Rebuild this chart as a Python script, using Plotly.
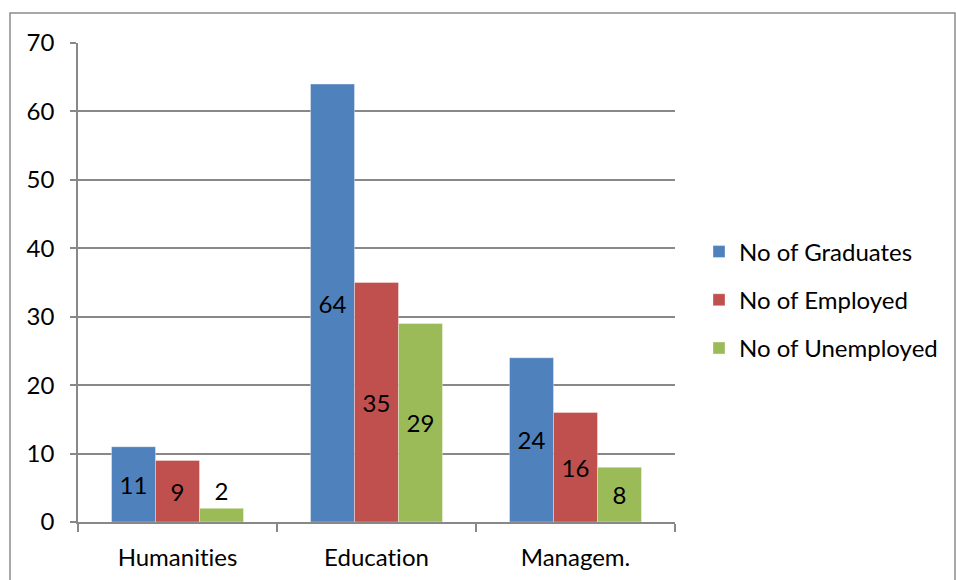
import plotly.graph_objects as go

categories = ["Humanities", "Education", "Managem."]
graduates = [11, 64, 24]
employed = [9, 35, 16]
unemployed = [2, 29, 8]
series_names = ["No of Graduates", "No of Employed", "No of Unemployed"]
colors = ["#4F81BD", "#C0504D", "#9BBB59"]

W, H = 956, 580
L, R, T, B = 78, 281, 43, 58
pw, ph = W - L - R, H - T - B
FONT = "Lato, Liberation Sans, Arial, sans-serif"

fig = go.Figure()
for name, vals, col in zip(series_names, [graduates, employed, unemployed], colors):
    fig.add_trace(go.Bar(
        x=categories, y=vals, name=name, legendgroup=name,
        marker=dict(color=col, line=dict(color="rgba(255,255,255,0.35)", width=1)),
        text=[str(v) for v in vals], textposition="auto",
        insidetextanchor="middle",
        textfont=dict(color="black", size=24, family=FONT),
        outsidetextfont=dict(color="black", size=24, family=FONT),
        insidetextfont=dict(color="black", size=24, family=FONT),
        cliponaxis=False,
    ))

fig.update_layout(
    width=W, height=H,
    margin=dict(l=L, r=R, t=T, b=B, pad=0, autoexpand=False),
    paper_bgcolor="white", plot_bgcolor="white",
    barmode="group", bargap=0.337, bargroupgap=0,
    font=dict(family=FONT, size=24, color="black"),
    legend=dict(x=(699 - L) / pw, xanchor="left", y=(522 - 300) / ph, yanchor="middle",
                font=dict(size=24, family=FONT), tracegroupgap=14, traceorder="grouped",
                itemwidth=30, bgcolor="rgba(0,0,0,0)"),
    showlegend=True,
)
fig.update_xaxes(
    type="category", showline=True, linecolor="#888888", linewidth=1.5,
    ticks="outside", tickson="boundaries", ticklen=8, tickcolor="#888888", tickwidth=1.5,
    showgrid=False, tickfont=dict(size=24, family=FONT), ticklabelstandoff=13,
    automargin=False,
)
fig.update_yaxes(
    range=[0, 70], dtick=10, showline=True, linecolor="#888888", linewidth=1.5,
    ticks="outside", ticklen=6, tickcolor="#888888", tickwidth=1.5,
    showgrid=True, gridcolor="#888888", gridwidth=1.5, zeroline=False,
    tickfont=dict(size=24, family=FONT), ticklabelstandoff=11,
    automargin=False,
)
fig.add_shape(type="rect", xref="paper", yref="paper",
              x0=(10 - L) / pw, x1=(955 - L) / pw,
              y0=(522 - 620) / ph, y1=(522 - 13) / ph,
              line=dict(color="#8c8c8c", width=1.5), fillcolor="rgba(0,0,0,0)", layer="below")

post = (
    "document.body.style.margin='0';document.body.style.overflow='hidden';"
    "var s=document.createElement('style');"
    "s.textContent='svg text{font-variant-ligatures:none;font-feature-settings:\"liga\" 0;}';"
    "document.head.appendChild(s);"
)
fig.write_html("out.html", config={"displayModeBar": False}, post_script=post)
